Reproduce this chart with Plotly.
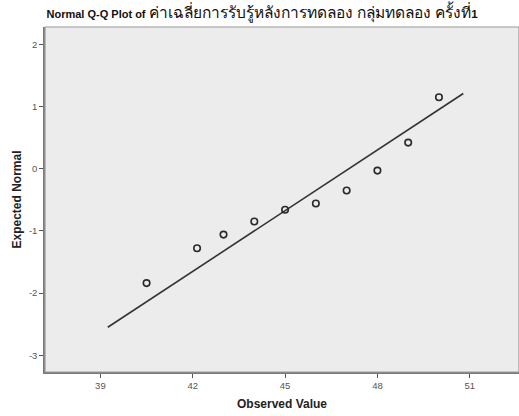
import plotly.graph_objects as go

# Observed values and their expected normal scores
observed = [40.5, 42.14, 43.0, 44.0, 45.0, 46.0, 47.0, 48.0, 49.0, 50.0]
expected = [-1.84, -1.28, -1.06, -0.85, -0.66, -0.56, -0.35, -0.03, 0.42, 1.15]

# Reference normal line endpoints (observed value, expected normal)
line_x = [39.24, 50.79]
line_y = [-2.55, 1.21]

x_ticks = [39, 42, 45, 48, 51]
y_ticks = [-3, -2, -1, 0, 1, 2]

title_bold = "Normal Q-Q Plot of "
title_var = "ค่าเฉลี่ยการรับรู้หลังการทดลอง กลุ่มทดลอง ครั้งที่"
title_num = "1"

fig = go.Figure()
fig.add_trace(go.Scatter(
    x=line_x, y=line_y, mode="lines",
    line=dict(color="#333333", width=1.6),
    hoverinfo="skip", showlegend=False,
))
fig.add_trace(go.Scatter(
    x=observed, y=expected, mode="markers",
    marker=dict(symbol="circle-open", size=6.5, color="#2a2a2a",
                line=dict(width=1.6, color="#2a2a2a")),
    showlegend=False,
))

axis_common = dict(
    showgrid=False, zeroline=False, showline=True, linecolor="#7a7a7a",
    linewidth=1.5, ticks="outside", ticklen=4, tickwidth=1.2,
    tickcolor="#555555", tickfont=dict(family="Arial, Liberation Sans", size=9.5, color="#555555"),
    mirror=False,
)

title_html = (
    f'<b><span style="font-size:11px">{title_bold}</span></b>'
    f'<span style="font-size:15.5px">{title_var}</span>'
    f'<b><span style="font-size:11.5px">{title_num}</span></b>'
)

fig.update_layout(
    width=519, height=416,
    margin=dict(l=45, r=0, t=27, b=44),
    paper_bgcolor="white", plot_bgcolor="#ececec",
    title=dict(
        text=title_html,
        x=0.458, xref="paper", xanchor="center",
        y=1 - 13 / 416, yref="container", yanchor="middle",
        font=dict(family="Arial, Liberation Sans, sans-serif", size=14, color="#111111"),
    ),
    xaxis=dict(
        range=[37.2, 52.6], tickvals=x_ticks, ticktext=[str(v) for v in x_ticks],
        title=dict(text="<b>Observed Value</b>", standoff=9,
                   font=dict(family="Arial, Liberation Sans", size=12, color="#222222")),
        **axis_common,
    ),
    yaxis=dict(
        range=[-3.27, 2.28], tickvals=y_ticks, ticktext=[str(v) for v in y_ticks],
        title=dict(text="<b>Expected Normal</b>", standoff=5,
                   font=dict(family="Arial, Liberation Sans", size=12, color="#222222")),
        **axis_common,
    ),
)

# frame around the plotting area
fig.add_shape(type="rect", xref="paper", yref="paper", x0=0, y0=0, x1=1, y1=1,
              line=dict(color="#9a9a9a", width=1.2), layer="above")

fig.write_html("out.html")
